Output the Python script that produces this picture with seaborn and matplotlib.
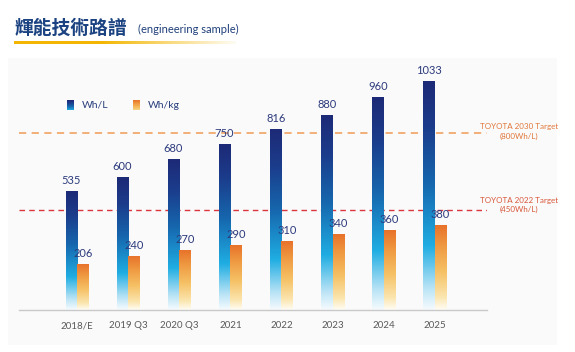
import numpy as np
import pandas as pd
import matplotlib
matplotlib.use('Agg')
import matplotlib.pyplot as plt
from matplotlib.colors import LinearSegmentedColormap, to_rgb
from matplotlib.patches import Rectangle
import seaborn as sns

categories = ['2018/E', '2019 Q3', '2020 Q3', '2021', '2022', '2023', '2024', '2025']
wh_l = [535, 600, 680, 750, 816, 880, 960, 1033]
wh_kg = [206, 240, 270, 290, 310, 340, 360, 380]
series_names = ['Wh/L', 'Wh/kg']
target_values = [800, 450]
target_labels = ['TOYOTA 2030 Target\n(800Wh/L)', 'TOYOTA 2022 Target\n(450Wh/L)']

sns.set_style('white')
plt.rcParams['font.family'] = ['Lato', 'Noto Sans CJK TC', 'DejaVu Sans']

W, H = 575, 352
fig = plt.figure(figsize=(W / 100, H / 100), dpi=100, facecolor='white')

def px(x0, y0, w, h):
    # pixel box (top-left origin) -> figure fraction
    return [x0 / W, 1 - (y0 + h) / H, w / W, h / H]

# light panel behind the chart
fig.patches.append(Rectangle((8 / W, 1 - 345 / H), 549 / W, 287 / H, transform=fig.transFigure,
                             facecolor='#FAFAFA', edgecolor='none', zorder=-10))

blue_cmap = LinearSegmentedColormap.from_list('blue', [
    (0.0, '#F6FBFE'), (0.1, '#B5E2F5'), (0.28, '#1FADE2'), (0.55, '#1667AE'),
    (0.8, '#1B3C8B'), (1.0, '#1D2A77')])
orange_cmap = LinearSegmentedColormap.from_list('orange', [
    (0.0, '#FFFDF6'), (0.15, '#FBE6B0'), (0.45, '#F6C165'), (0.75, '#EF9A42'), (1.0, '#E8722A')])
cmaps = [blue_cmap, orange_cmap]

df = pd.DataFrame({
    'Year': categories * 2,
    'Value': wh_l + wh_kg,
    'Series': [series_names[0]] * len(categories) + [series_names[1]] * len(categories),
})

ax = fig.add_axes(px(19, 60, 468, 250))
sns.barplot(data=df, x='Year', y='Value', hue='Series', order=categories, hue_order=series_names,
            palette=['#1B3C8B', '#EF9A42'], width=0.45, legend=False, ax=ax)

grad = np.linspace(1, 0, 256).reshape(-1, 1)
for container, cmap in zip(ax.containers, cmaps):
    for bar in container:
        x0, w, h = bar.get_x(), bar.get_width(), bar.get_height()
        ax.imshow(grad, cmap=cmap, vmin=0, vmax=1, extent=[x0, x0 + w, 0, h],
                  aspect='auto', zorder=2, interpolation='bilinear')
        bar.set_facecolor('none')
        bar.set_edgecolor('none')
    ax.bar_label(container, padding=4, fontsize=8, color='#2C3A7C')

ax.set_xlim(-1.135, 8.02)
ax.set_ylim(0, 1130)

ax.axhline(target_values[0], color='#F2A96E', lw=1.3, ls=(0, (4, 3)), zorder=1)
ax.axhline(target_values[1], color='#D9363E', lw=1.0, ls=(0, (4, 3)), zorder=1)

for v, lab, col, dy in zip(target_values, target_labels, ['#E0773A', '#D9573A'], [1, 4]):
    ax.annotate(lab, xy=(1.0, v), xycoords=('axes fraction', 'data'), xytext=(23, dy),
                textcoords='offset points', ha='center', va='center', fontsize=5.8,
                color=col, linespacing=1.35, annotation_clip=False)

for s in ['top', 'right', 'left']:
    ax.spines[s].set_visible(False)
ax.spines['bottom'].set_color('#C9C9C9')
ax.spines['bottom'].set_linewidth(1)
ax.set_yticks([])
ax.set_xlabel('')
ax.set_ylabel('')
ax.tick_params(axis='x', length=0, pad=8, labelsize=7, labelcolor='#595959')
ax.set_facecolor('none')

# legend squares with gradients
for (x0, tx), name, cmap in zip([(67, 82), (133, 148)], series_names, cmaps):
    lax = fig.add_axes(px(x0, 100, 7, 10))
    lax.imshow(np.linspace(1, 0.3, 64).reshape(-1, 1), cmap=cmap, vmin=0, vmax=1, aspect='auto')
    lax.axis('off')
    fig.text(tx / W, 1 - 105 / H, name, fontsize=7.5, color='#2A3F7E', va='center', ha='left')

# title
fig.text(15 / W, 1 - 28 / H, '輝能技術路譜', fontsize=13.5, fontweight='bold', color='#1B4281',
         va='center', ha='left', family=['Noto Sans CJK TC', 'DejaVu Sans'])
fig.text(138 / W, 1 - 29 / H, '(engineering sample)', fontsize=8, color='#1F3F7A', va='center', ha='left')

# yellow fading underline
uax = fig.add_axes(px(14, 41, 222, 3))
ug = np.zeros((1, 256, 4))
ug[..., :3] = to_rgb('#F3B600')
alpha = np.ones(256)
alpha[100:] = np.linspace(1, 0.05, 156)
ug[..., 3] = alpha
uax.imshow(ug, aspect='auto')
uax.axis('off')

fig.savefig('out.png', dpi=100, facecolor='white')
